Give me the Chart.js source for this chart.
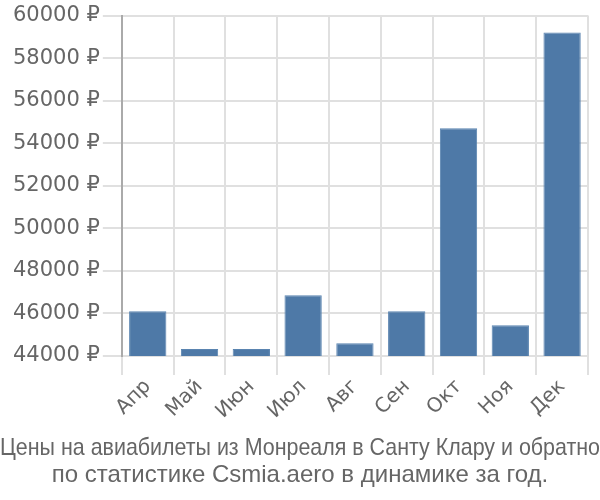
<!DOCTYPE html>
<html>
<head>
<meta charset="utf-8">
<script src="https://cdn.jsdelivr.net/npm/chart.js@4"></script>
<style>
  body { margin: 0; background: #fff; }
  #wrap { width: 600px; height: 500px; }
</style>
</head>
<body>
<div id="wrap"><canvas id="myChart"></canvas></div>
<script>
const months = ["Апр", "Май", "Июн", "Июл", "Авг", "Сен", "Окт", "Ноя", "Дек"];
const prices = [46100, 44330, 44330, 46850, 44600, 46100, 54710, 45450, 59200];
const yMin = 44000;
const yMax = 60000;
const yStep = 2000;
const titleLines = [
  "Цены на авиабилеты из Монреаля в Санту Клару и обратно",
  "по статистике Csmia.aero в динамике за год.",
];

Chart.defaults.font.family = "'DejaVu Sans', sans-serif";
Chart.defaults.color = "#666";

const ctx = document.getElementById("myChart");
const myChart = new Chart(ctx, {
  type: "bar",
  data: {
    labels: months,
    datasets: [
      {
        data: prices,
        backgroundColor: "#4e79a7",
        borderColor: "#5a84b0",
        borderWidth: 1,
        yAxisID: "y",
      },
    ],
  },
  options: {
    responsive: true,
    maintainAspectRatio: false,
    animation: false,
    layout: { padding: { top: 8, right: 0, left: 0, bottom: 0 } },
    plugins: {
      legend: { display: false },
      tooltip: { enabled: false },
      title: {
        display: true,
        position: "bottom",
        text: titleLines,
        font: { family: "'Liberation Sans', Arial, sans-serif", size: 24, weight: "normal", lineHeight: 1.09 },
        color: "#666",
        padding: { top: 12, bottom: 12 },
      },
    },
    scales: {
      x: {
        grid: { color: "#e0e0e0", lineWidth: 2, tickLength: 19, offset: true },
        border: { color: "#e0e0e0" },
        ticks: { font: { size: 20 }, padding: 0, maxRotation: 45, minRotation: 45, color: "#666" },
      },
      y: {
        min: yMin,
        max: yMax,
        grid: { color: "#e0e0e0", lineWidth: 2, tickLength: 19 },
        border: { color: "#aaa", width: 2 },
        ticks: {
          stepSize: yStep,
          font: { size: 21 },
          color: "#666",
          padding: 3,
          callback: (v) => v + " ₽",
        },
        afterFit: (s) => { s.width += 10; },
      },
      yRight: {
        position: "right",
        min: yMin,
        max: yMax,
        grid: { display: false },
        border: { display: false },
        ticks: { display: false },
        afterFit: (s) => { s.width = 12; },
      },
    },
  },
});
</script>
</body>
</html>
